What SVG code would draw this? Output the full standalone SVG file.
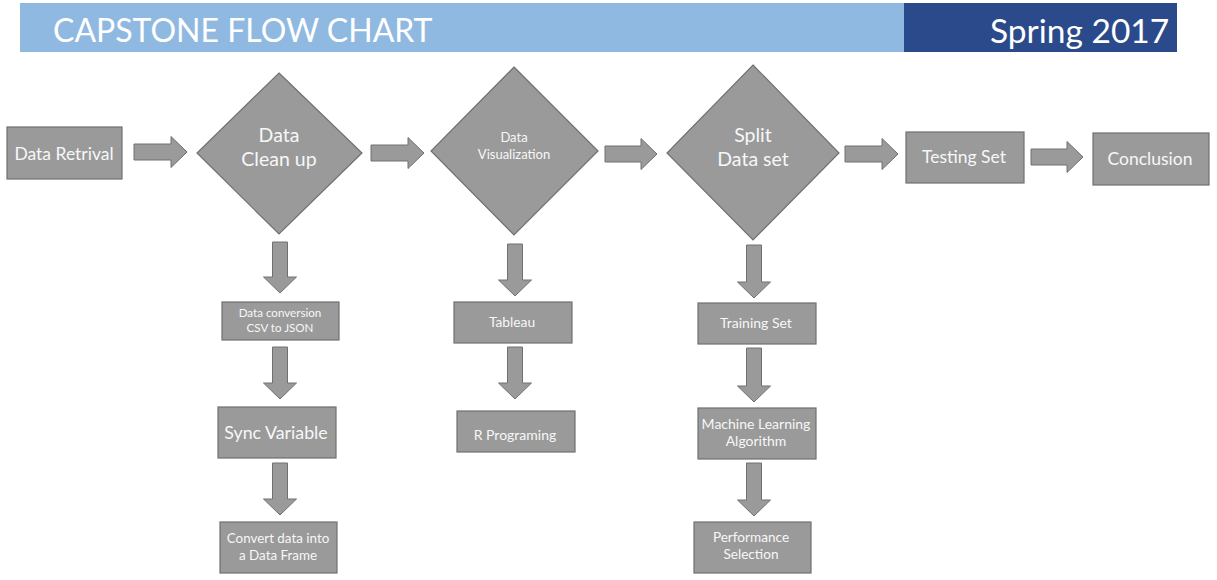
<svg xmlns="http://www.w3.org/2000/svg" width="1217" height="580" viewBox="0 0 1217 580">
<style>
.n{fill:#9a9a9a;stroke:#707070;stroke-width:1.2}
.a{fill:#9a9a9a;stroke:#707070;stroke-width:1}
text{font-family:Lato,"Open Sans","Liberation Sans",sans-serif;fill:#f7f7f7;text-anchor:middle}
.h{fill:#ffffff;text-anchor:start}
</style>
<rect width="1217" height="580" fill="#ffffff"/>
<g id="header">
<rect x="20" y="3" width="885" height="49" fill="#8fb9e1"/>
<rect x="904" y="3" width="273" height="49" fill="#2b4a8b"/>
<text class="h" x="53" y="42" font-size="32">CAPSTONE FLOW CHART</text>
<text class="h" x="990" y="43" font-size="33.5">Spring 2017</text>
</g>
<g id="connectors">
<path class="a" d="M134,144 H171 V136.5 L187,152 L171,167.5 V160 H134 Z"/>
<path class="a" d="M371,145 H408 V137.5 L424,153 L408,168.5 V161 H371 Z"/>
<path class="a" d="M605,146 H641 V138.5 L657,154 L641,169.5 V162 H605 Z"/>
<path class="a" d="M845,146 H882 V138.5 L898,154 L882,169.5 V162 H845 Z"/>
<path class="a" d="M1031,149 H1067 V141.5 L1083,157 L1067,172.5 V165 H1031 Z"/>
<path class="a" d="M272.5,242 V277 H263.5 L280,293 L296.5,277 H287.5 V242 Z"/>
<path class="a" d="M272.5,347 V383 H263.5 L280,399 L296.5,383 H287.5 V347 Z"/>
<path class="a" d="M272.5,463 V499 H263.5 L280,515 L296.5,499 H287.5 V463 Z"/>
<path class="a" d="M507.5,244 V280 H498.5 L515,296 L531.5,280 H522.5 V244 Z"/>
<path class="a" d="M507.5,347 V383 H498.5 L515,399 L531.5,383 H522.5 V347 Z"/>
<path class="a" d="M746.5,245 V282 H737.5 L754,298 L770.5,282 H761.5 V245 Z"/>
<path class="a" d="M746.5,348 V386 H737.5 L754,402 L770.5,386 H761.5 V348 Z"/>
<path class="a" d="M746.5,463 V500 H737.5 L754,516 L770.5,500 H761.5 V463 Z"/>
</g>
<g id="data-retrival">
<rect class="n" x="7" y="127" width="115" height="52"/>
<text x="64" y="160" font-size="17.5">Data Retrival</text>
</g>
<g id="data-clean-up">
<polygon class="n" points="279,73 362,153 279,234 197,153"/>
<text x="279" y="142" font-size="19.5">Data</text>
<text x="279" y="166" font-size="19.5">Clean up</text>
</g>
<g id="data-visualization">
<polygon class="n" points="514,67 598,151 514,235 431,151"/>
<text x="514" y="142" font-size="13">Data</text>
<text x="514" y="159" font-size="13">Visualization</text>
</g>
<g id="split-data-set">
<polygon class="n" points="753,65 839,153 753,240 667,153"/>
<text x="753" y="142" font-size="19.5">Split</text>
<text x="753" y="166" font-size="19.5">Data set</text>
</g>
<g id="testing-set">
<rect class="n" x="906" y="132" width="118" height="51"/>
<text x="964" y="163" font-size="17.5">Testing Set</text>
</g>
<g id="conclusion">
<rect class="n" x="1093" y="133" width="116" height="52"/>
<text x="1150" y="165" font-size="17.5">Conclusion</text>
</g>
<g id="data-conversion">
<rect class="n" x="222" y="302" width="117" height="38"/>
<text x="280" y="317" font-size="11.6">Data conversion</text>
<text x="280" y="332" font-size="11.6">CSV to JSON</text>
</g>
<g id="sync-variable">
<rect class="n" x="218" y="407" width="118" height="51"/>
<text x="276" y="439" font-size="17.8">Sync Variable</text>
</g>
<g id="convert-data-frame">
<rect class="n" x="220" y="522" width="117" height="51"/>
<text x="278" y="543" font-size="13.4">Convert data into</text>
<text x="278" y="560" font-size="13.4">a Data Frame</text>
</g>
<g id="tableau">
<rect class="n" x="454" y="302" width="118" height="41"/>
<text x="512" y="327" font-size="13.8">Tableau</text>
</g>
<g id="r-programing">
<rect class="n" x="457" y="411" width="118" height="41"/>
<text x="515" y="440" font-size="14">R Programing</text>
</g>
<g id="training-set">
<rect class="n" x="698" y="303" width="118" height="41"/>
<text x="756" y="328" font-size="14">Training Set</text>
</g>
<g id="ml-algorithm">
<rect class="n" x="698" y="408" width="118" height="51"/>
<text x="756" y="429" font-size="14">Machine Learning</text>
<text x="756" y="446" font-size="14">Algorithm</text>
</g>
<g id="performance-selection">
<rect class="n" x="694" y="522" width="117" height="51"/>
<text x="751" y="542" font-size="13.6">Performance</text>
<text x="751" y="559" font-size="13.6">Selection</text>
</g>
</svg>
